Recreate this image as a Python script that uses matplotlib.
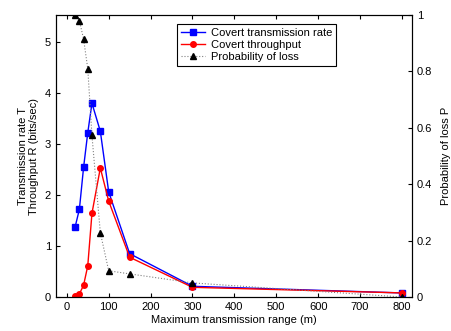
import numpy as np
import matplotlib
matplotlib.use("Agg")
import matplotlib.pyplot as plt

plt.rcParams['font.family'] = ['Liberation Sans', 'DejaVu Sans']
plt.rcParams['font.size'] = 8

# data
ranges = [20, 30, 40, 50, 60, 80, 100, 150, 300, 800]
trans_rate = [1.38, 1.72, 2.54, 3.22, 3.80, 3.25, 2.06, 0.85, 0.21, 0.08]
throughput = [0.02, 0.06, 0.23, 0.61, 1.64, 2.53, 1.88, 0.78, 0.19, 0.08]
prob_loss = [1.0, 0.98, 0.915, 0.81, 0.573, 0.228, 0.093, 0.082, 0.05, 0.0]

fig = plt.figure(figsize=(4.51, 3.31), dpi=100)
ax = fig.add_axes([0.124, 0.1027, 0.7895, 0.852])
ax2 = ax.twinx()

l1, = ax.plot(ranges, trans_rate, color="blue", marker="s", markersize=4,
              linewidth=1, label="Covert transmission rate")
l2, = ax.plot(ranges, throughput, color="red", marker="o", markersize=4,
              linewidth=1, label="Covert throughput")
l3, = ax2.plot(ranges, prob_loss, color="gray", marker="^", markersize=4,
               linewidth=0.8, linestyle=":", label="Probability of loss",
               markerfacecolor="black", markeredgecolor="black")

ax.set_xlim(-26, 824)
ax.set_ylim(0, 5.53)
ax2.set_ylim(0, 1)
ax.set_xticks(range(0, 900, 100))
ax.set_yticks(range(0, 6))
ax2.set_yticks([0, 0.2, 0.4, 0.6, 0.8, 1])
ax2.set_yticklabels(["0", "0.2", "0.4", "0.6", "0.8", "1"])

ax.tick_params(direction="in", top=True, length=3)
ax2.tick_params(direction="in", length=3)

ax.set_xlabel("Maximum transmission range (m)", labelpad=2)
ax.set_ylabel("Transmission rate T\nThroughput R (bits/sec)", labelpad=4)
ax2.set_ylabel("Probability of loss P", labelpad=6)

leg = ax.legend(handles=[l1, l2, l3], loc="upper left",
                bbox_to_anchor=(0.34, 0.968), borderaxespad=0,
                fancybox=False, framealpha=1,
                edgecolor="black", borderpad=0.35, labelspacing=0.2,
                handlelength=2.2, handletextpad=0.5, fontsize=8)
leg.get_frame().set_linewidth(0.8)

plt.savefig("out.png", dpi=100)
